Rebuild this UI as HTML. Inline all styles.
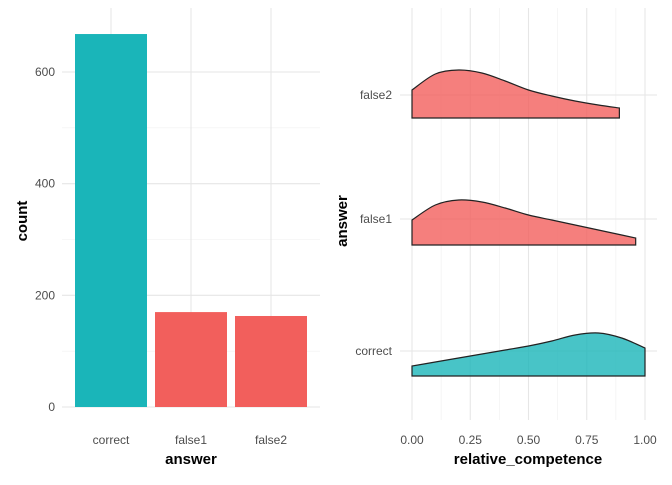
<!DOCTYPE html>
<html><head><meta charset="utf-8"><style>
body{margin:0;background:#fff;font-family:"Liberation Sans",sans-serif}
svg text{font-family:"Liberation Sans",sans-serif}
</style></head><body>
<svg id="c" width="672" height="480" xmlns="http://www.w3.org/2000/svg"></svg>
<script>
const barCats=["correct","false1","false2"];
const barCounts=[668,170,163];
const barColors=["#1ab5b9","#f25f5c","#f25f5c"];
const yTicks=[0,200,400,600];
const ridgeCats=["correct","false1","false2"];
const xCorrect=[0,0.1,0.2,0.3,0.4,0.5,0.6,0.7,0.8,0.9,1.0];
const densCorrect=[10,14,18,22,26,30,35,41,43,38,28];
const xFalse1=[0,0.1,0.2,0.3,0.4,0.5,0.6,0.7,0.8,0.9,0.96];
const densFalse1=[25,40,45,43,37,30,25,20,15,10,7];
const xFalse2=[0,0.1,0.2,0.3,0.4,0.5,0.6,0.7,0.8,0.89];
const densFalse2=[28,44,48,45,37,28,22,17,13,10];
const xTicks=[0,0.25,0.5,0.75,1];
const xTickLabels=["0.00","0.25","0.50","0.75","1.00"];

const S=document.getElementById('c');const NS="http://www.w3.org/2000/svg";
function mk(t,a,p){const e=document.createElementNS(NS,t);for(const k in a)e.setAttribute(k,a[k]);(p||S).appendChild(e);return e;}
const yS=v=>407-v*(335/600);
const xB=i=>111+i*80;
for(const v of [100,300,500]){const l=mk('line',{x1:62,x2:320,y1:yS(v),y2:yS(v),stroke:"#f0f0f0","stroke-width":0.6});}
for(const v of yTicks){const l=mk('line',{x1:62,x2:320,y1:yS(v),y2:yS(v),stroke:"#e6e6e6","stroke-width":1.1});
const t=mk('text',{x:55,y:yS(v)+4,"text-anchor":"end","font-size":12,fill:"#4d4d4d"});t.textContent=v;}
barCats.forEach((c,i)=>{const l=mk('line',{x1:xB(i),x2:xB(i),y1:8,y2:407,stroke:"#e6e6e6","stroke-width":1.1});});
barCats.forEach((c,i)=>{const r=mk('rect',{x:xB(i)-36,width:72,y:yS(barCounts[i]),height:407-yS(barCounts[i]),fill:barColors[i]});
const t=mk('text',{x:xB(i),y:444,"text-anchor":"middle","font-size":12,fill:"#4d4d4d"});t.textContent=c;});
let t=mk('text',{x:191,y:464,"text-anchor":"middle","font-size":15,"font-weight":"bold"});t.textContent="answer";
t=mk('text',{x:0,y:0,"text-anchor":"middle","font-size":15,"font-weight":"bold",transform:"translate(27,221) rotate(-90)"});t.textContent="count";
const xS=v=>412+v*233;
const baseY=[376,245,118];const labY=[351,219,95];
for(const v of [0.125,0.375,0.625,0.875]){const l=mk('line',{x1:xS(v),x2:xS(v),y1:8,y2:420,stroke:"#f0f0f0","stroke-width":0.6});}
xTicks.forEach((v,i)=>{const l=mk('line',{x1:xS(v),x2:xS(v),y1:8,y2:420,stroke:"#e6e6e6","stroke-width":1.1});
const t=mk('text',{x:xS(v),y:444,"text-anchor":"middle","font-size":12,fill:"#4d4d4d"});t.textContent=xTickLabels[i];});
ridgeCats.forEach((c,i)=>{const l=mk('line',{x1:400,x2:657,y1:labY[i],y2:labY[i],stroke:"#e6e6e6","stroke-width":1.1});
const t=mk('text',{x:392,y:labY[i]+4,"text-anchor":"end","font-size":12,fill:"#4d4d4d"});t.textContent=c;});
const xs=[xCorrect,xFalse1,xFalse2];const dens=[densCorrect,densFalse1,densFalse2];
const fills=["rgba(26,181,185,0.8)","rgba(242,95,92,0.8)","rgba(242,95,92,0.8)"];
dens.forEach((d,i)=>{const pts=xs[i].map((x,j)=>[xS(x),baseY[i]-d[j]]);
let p="M"+pts[0][0]+","+baseY[i]+" L"+pts[0][0]+","+pts[0][1];
for(let j=0;j<pts.length-1;j++){const p0=pts[Math.max(0,j-1)],p1=pts[j],p2=pts[j+1],p3=pts[Math.min(pts.length-1,j+2)];
const c1=[p1[0]+(p2[0]-p0[0])/6,p1[1]+(p2[1]-p0[1])/6],c2=[p2[0]-(p3[0]-p1[0])/6,p2[1]-(p3[1]-p1[1])/6];
p+=" C"+c1[0]+","+c1[1]+" "+c2[0]+","+c2[1]+" "+p2[0]+","+p2[1];}
p+=" L"+pts[pts.length-1][0]+","+baseY[i]+" Z";
const e=mk('path',{d:p,fill:fills[i],stroke:"#222","stroke-width":1.2});});
t=mk('text',{x:528,y:464,"text-anchor":"middle","font-size":15,"font-weight":"bold"});t.textContent="relative_competence";
t=mk('text',{x:0,y:0,"text-anchor":"middle","font-size":15,"font-weight":"bold",transform:"translate(347,221) rotate(-90)"});t.textContent="answer";
</script></body></html>
